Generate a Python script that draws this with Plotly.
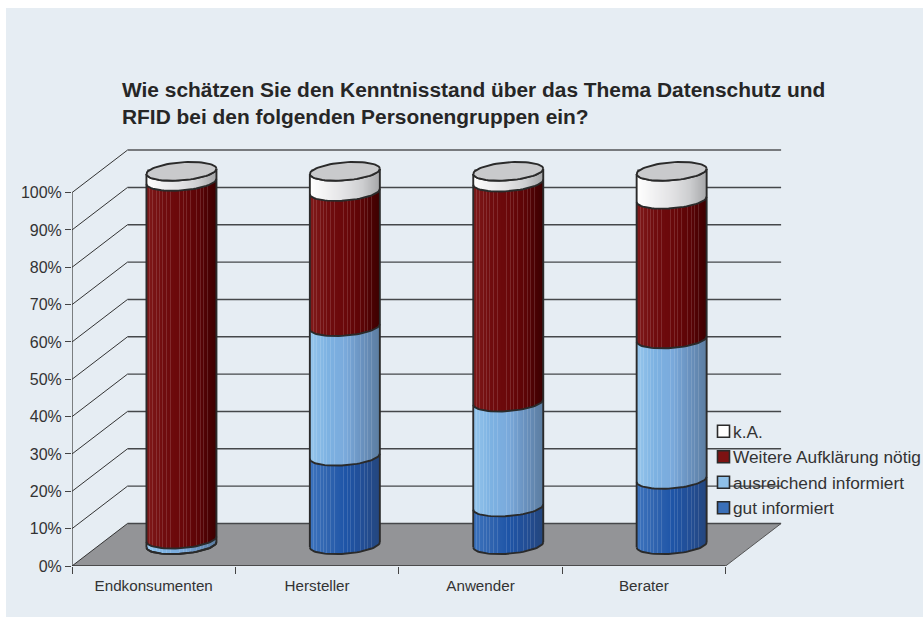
import math
import plotly.graph_objects as go

# ---------- data ----------
categories = ["Endkonsumenten", "Hersteller", "Anwender", "Berater"]
gut_informiert = [0.0, 23.7, 10.1, 17.5]
ausreichend_informiert = [1.5, 34.7, 28.1, 37.6]
weitere_aufklaerung = [95.8, 36.2, 58.9, 37.4]
k_a = [2.7, 5.4, 2.9, 7.5]
y_ticks = [0, 10, 20, 30, 40, 50, 60, 70, 80, 90, 100]
y_tick_labels = ["0%", "10%", "20%", "30%", "40%", "50%", "60%", "70%", "80%", "90%", "100%"]

series_names = ["gut informiert", "ausreichend informiert", "Weitere Aufklärung nötig", "k.A."]
series_values = [gut_informiert, ausreichend_informiert, weitere_aufklaerung, k_a]

# ---------- style ----------
PANEL = "#e6edf3"
INK = "#2a2a2a"
TEXT = "#333333"
FONT = "Liberation Sans"
ramps = {
    "gut informiert": [(60, 115, 190), (48, 100, 175), (30, 85, 168), (34, 78, 150), (36, 70, 125)],
    "ausreichend informiert": [(150, 198, 236), (125, 178, 226), (122, 170, 220), (105, 145, 190), (92, 125, 160)],
    "Weitere Aufklärung nötig": [(128, 26, 26), (112, 12, 14), (106, 8, 10), (92, 4, 6), (60, 0, 0)],
    "k.A.": [(255, 255, 255), (240, 240, 241), (226, 226, 228), (205, 206, 208), (165, 166, 168)],
}
legend_colors = {
    "gut informiert": "#3a6fb8",
    "ausreichend informiert": "#8fc0e8",
    "Weitere Aufklärung nötig": "#7d1212",
    "k.A.": "#ffffff",
}
stripes = {3, 6, 10, 13, 16, 20, 24, 33, 37, 40, 44, 50, 54, 57, 61}

# ---------- projection in axis units ----------
PX_X = 163.4           # pixels per category
PX_Y = 3.734           # pixels per percent
DEPTH_X = 55.5 / PX_X
DEPTH_Y = 42.5 / PX_Y
RADIUS_PX = 35.0
RX = RADIUS_PX / PX_X
TILT = 2.6 / PX_Y
MINOR = 9.0 / PX_Y


def scale_for(name):
    ramp = ramps[name]
    n = 70
    out = []
    for k in range(n):
        u = (k + 0.5) / n * (len(ramp) - 1)
        i = min(int(u), len(ramp) - 2)
        f = u - i
        c = [ramp[i][j] + (ramp[i + 1][j] - ramp[i][j]) * f for j in range(3)]
        if k in stripes and name != "k.A.":
            c = [v + (255 - v) * 0.13 for v in c]
        col = "rgb(%d,%d,%d)" % tuple(round(v) for v in c)
        out.append([k / n, col])
        out.append([(k + 1) / n, col])
    return out


def arc(cx, level, reverse=False, steps=36):
    """Front (lower) half of the tilted ellipse at a level."""
    xs, ys = [], []
    for s in range(steps + 1):
        t = -math.pi + math.pi * s / steps
        xs.append(cx + RX * math.cos(t))
        ys.append(level + TILT * math.cos(t) + MINOR * math.sin(t))
    if reverse:
        xs.reverse()
        ys.reverse()
    return xs, ys


def ellipse(cx, level, steps=72):
    xs, ys = [], []
    for s in range(steps + 1):
        t = 2 * math.pi * s / steps
        xs.append(cx + RX * math.cos(t))
        ys.append(level + TILT * math.cos(t) + MINOR * math.sin(t))
    return xs, ys


centers = [i + 0.5 + DEPTH_X / 2 for i in range(len(categories))]
lift = DEPTH_Y / 2

fig = go.Figure()

# real stacked values as bars (this also provides the legend)
bases = {}
running = [lift] * len(categories)
for name, vals in zip(series_names, series_values):
    bases[name] = list(running)
    running = [r + v for r, v in zip(running, vals)]

for name, vals in reversed(list(zip(series_names, series_values))):
    fig.add_trace(go.Bar(
        x=centers, y=vals, base=bases[name], width=2 * RX * 0.92, name=name,
        legendgroup=name, hoverinfo="skip",
        marker=dict(color=legend_colors[name], line=dict(color=INK, width=1.6)),
    ))

# curved front surface of each stacked segment
for name, vals in zip(series_names, series_values):
    for cx, b, v in zip(centers, bases[name], vals):
        if v <= 0:
            continue
        x0, y0 = arc(cx, b)
        x1, y1 = arc(cx, b + v, reverse=True)
        fig.add_trace(go.Scatter(
            x=x0 + x1 + [x0[0]], y=y0 + y1 + [y0[0]], mode="lines", fill="toself",
            line=dict(width=0), showlegend=False, hoverinfo="skip",
            fillgradient=dict(type="horizontal", start=cx - RX, stop=cx + RX,
                              colorscale=scale_for(name)),
        ))

# outlines
ox, oy = [], []
for idx, cx in enumerate(centers):
    top = running[idx]
    ox += [cx - RX, cx - RX, None, cx + RX, cx + RX, None]
    oy += [lift + TILT * -1, top + TILT * -1, None, lift + TILT, top + TILT, None]
    level = lift
    levels = [lift]
    for name, vals in zip(series_names, series_values):
        level += vals[idx]
        levels.append(level)
    for lv in levels:
        ax, ay = arc(cx, lv)
        ox += ax + [None]
        oy += ay + [None]
fig.add_trace(go.Scatter(x=ox, y=oy, mode="lines", showlegend=False, hoverinfo="skip",
                         line=dict(color=INK, width=1.9)))

# top caps
for idx, cx in enumerate(centers):
    ex, ey = ellipse(cx, running[idx])
    fig.add_trace(go.Scatter(x=ex, y=ey, mode="lines", fill="toself", fillcolor="#c9cacc",
                             showlegend=False, hoverinfo="skip",
                             line=dict(color=INK, width=1.9)))

# walls and floor
n_cat = len(categories)
shapes = [dict(
    type="path", layer="below", xref="x", yref="y",
    path=f"M0,0 L{n_cat},0 L{n_cat + DEPTH_X},{DEPTH_Y} L{DEPTH_X},{DEPTH_Y} Z",
    fillcolor="#939497", line=dict(width=0),
)]
for t in y_ticks:
    if t > 0:
        shapes.append(dict(type="line", layer="below", xref="x", yref="y",
                           x0=0, y0=t, x1=DEPTH_X, y1=t + DEPTH_Y,
                           line=dict(color="#333333", width=1)))
    shapes.append(dict(type="line", layer="below", xref="x", yref="y",
                       x0=DEPTH_X, y0=t + DEPTH_Y, x1=n_cat + DEPTH_X, y1=t + DEPTH_Y,
                       line=dict(color="#777a7d" if t == 100 else "#45474a",
                                 width=2 if t == 100 else 1.4)))
shapes.append(dict(type="line", layer="below", xref="x", yref="y", x0=0, y0=0, x1=DEPTH_X, y1=DEPTH_Y,
                   line=dict(color="#333333", width=1)))
shapes.append(dict(type="line", layer="below", xref="x", yref="y", x0=n_cat, y0=0,
                   x1=n_cat + DEPTH_X, y1=DEPTH_Y, line=dict(color="#555555", width=1)))
shapes.append(dict(type="line", layer="above", xref="x", yref="y", x0=0, y0=0, x1=0, y1=100,
                   line=dict(color="#333333", width=1.2)))
shapes.append(dict(type="line", layer="above", xref="x", yref="y", x0=0, y0=0, x1=n_cat, y1=0,
                   line=dict(color="#333333", width=1.4)))

# the canvas runs past the right window edge so the long legend entry
# does not push the plot area narrower
WIDTH, HEIGHT = 960, 609
L, R, T, B = 66, 0, 128, 51
fig.update_layout(
    width=WIDTH, height=HEIGHT, autosize=False,
    margin=dict(l=L, r=R, t=T, b=B, pad=0),
    paper_bgcolor=PANEL, plot_bgcolor="rgba(0,0,0,0)",
    barmode="overlay", bargap=0, shapes=shapes,
    font=dict(family=FONT, color=TEXT, size=15),
    title=dict(
        text="Wie schätzen Sie den Kenntnisstand über das Thema Datenschutz und<br>"
             "RFID bei den folgenden Personengruppen ein?",
        x=116 / WIDTH, xanchor="left", xref="container",
        y=1 - 89 / HEIGHT, yanchor="top", yref="container",
        font=dict(family=FONT, size=20.9, color="#262626", weight="bold"),
    ),
    legend=dict(
        x=(693 - 72) / (WIDTH - L), xanchor="left",
        y=1 - (413.5 - 136) / (HEIGHT - T - B), yanchor="top",
        bgcolor="rgba(0,0,0,0)", font=dict(family=FONT, size=17.3, color=TEXT),
        tracegroupgap=0, traceorder="normal",
    ),
    xaxis=dict(
        range=[0, (WIDTH - L - R) / PX_X], showgrid=False, zeroline=False, showline=False,
        tickmode="array", tickvals=[i + 0.5 for i in range(n_cat)], ticktext=categories,
        ticks="", ticklabelstandoff=9, tickfont=dict(family=FONT, size=15.2, color=TEXT),
        minor=dict(tickmode="array", tickvals=list(range(n_cat + 1)), ticks="outside",
                   ticklen=7, tickwidth=1, tickcolor="#444444", showgrid=False),
    ),
    yaxis=dict(
        range=[0, (HEIGHT - T - B) / PX_Y], showgrid=False, zeroline=False, showline=False,
        tickmode="array", tickvals=y_ticks, ticktext=y_tick_labels, ticks="outside",
        ticklen=6, tickwidth=1, tickcolor="#444444",
        tickfont=dict(family=FONT, size=16, color=TEXT),
    ),
)

post = """
document.body.style.margin='8px 0 0 6px';
document.body.style.overflow='hidden';
document.documentElement.style.overflow='hidden';
document.querySelectorAll('.legend .legendsymbols').forEach(function(e){
  e.setAttribute('transform','translate(10.5,0)');
});
"""
fig.write_html("out.html", post_script=post, config={"displayModeBar": False})
